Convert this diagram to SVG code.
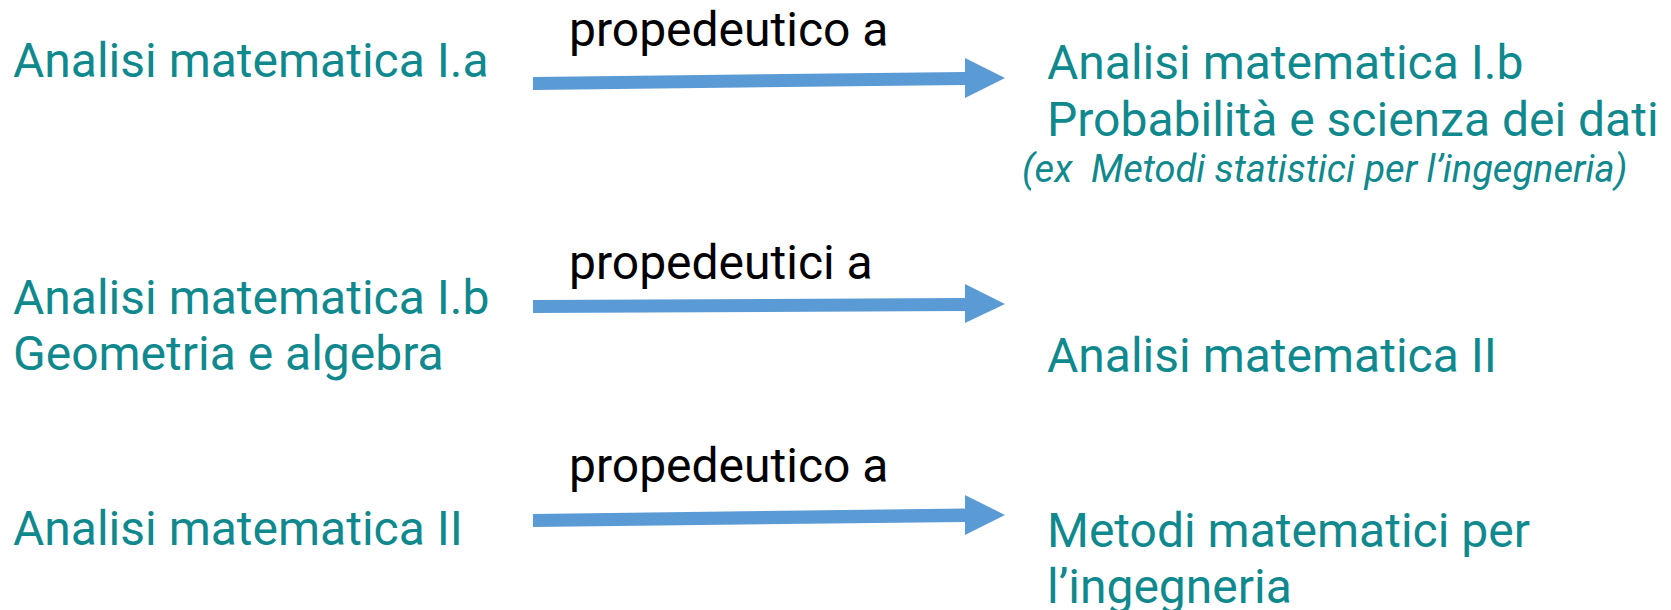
<svg xmlns="http://www.w3.org/2000/svg" width="1671" height="610" viewBox="0 0 1671 610">
<style>
.t{font-family:Roboto,"Liberation Sans",sans-serif;font-size:48px;fill:#10898e}
.k{font-family:Roboto,"Liberation Sans",sans-serif;font-size:48px;fill:#000}
.i{font-family:Roboto,"Liberation Sans",sans-serif;font-size:38px;font-style:italic;fill:#10898e;white-space:pre}
.a{fill:#5b9bd5}
</style>
<rect width="1671" height="610" fill="#fff"/>
<g id="connectors">
<path class="a" d="M533 77 L965 72 L965 58 L1005 78 L965 98 L965 85 L533 90 Z"/>
<path class="a" d="M533 300 L965 298 L965 284 L1005 304 L965 323 L965 311 L533 313 Z"/>
<path class="a" d="M533 514 L965 508.5 L965 495 L1005 515 L965 535 L965 522 L533 527 Z"/>
</g>
<g id="label1"><text class="k" x="569" y="46">propedeutico a</text></g>
<g id="label2"><text class="k" x="569" y="279">propedeutici a</text></g>
<g id="label3"><text class="k" x="569" y="482">propedeutico a</text></g>
<g id="n-am1a"><text class="t" x="13" y="77">Analisi matematica I.a</text></g>
<g id="n-am1b-pro"><text class="t" x="1047" y="79">Analisi matematica I.b</text><text class="t" x="1047" y="136">Probabilità e scienza dei dati</text><text class="i" x="1022" y="182" xml:space="preserve">(ex  Metodi statistici per l’ingegneria)</text></g>
<g id="n-am1b-geo"><text class="t" x="13" y="314">Analisi matematica I.b</text><text class="t" x="13" y="370">Geometria e algebra</text></g>
<g id="n-am2-right"><text class="t" x="1047" y="372">Analisi matematica II</text></g>
<g id="n-am2-left"><text class="t" x="13" y="545">Analisi matematica II</text></g>
<g id="n-mmi"><text class="t" x="1047" y="547">Metodi matematici per</text><text class="t" x="1047" y="603">l’ingegneria</text></g>
</svg>
